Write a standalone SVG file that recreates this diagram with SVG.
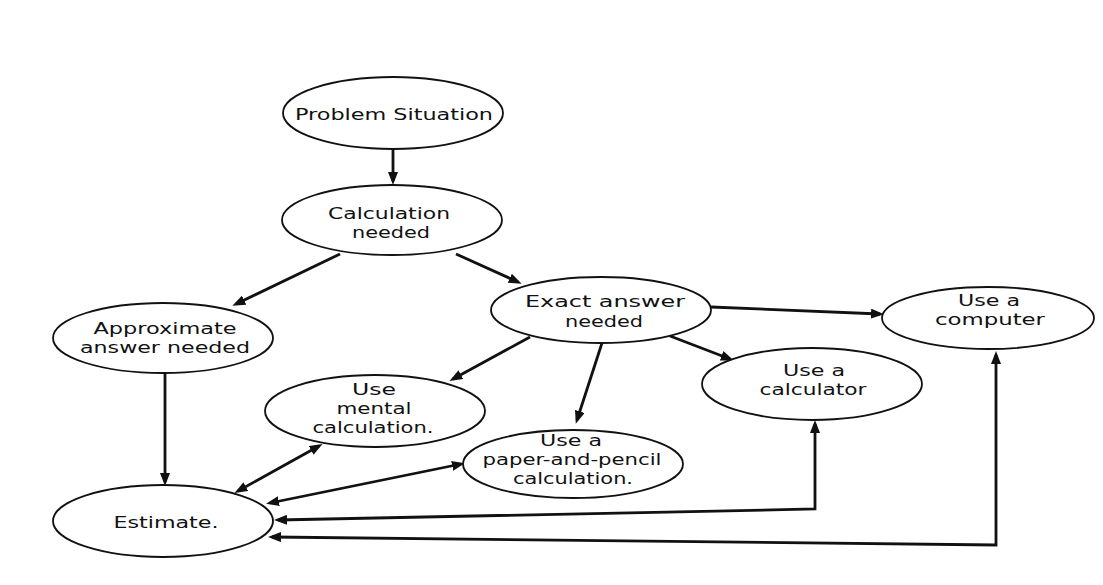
<svg xmlns="http://www.w3.org/2000/svg" width="1103" height="585" viewBox="0 0 1103 585">
<style>
.node ellipse{fill:#fff;stroke:#111;stroke-width:1.8}
.node text{font-family:"DejaVu Sans","Liberation Sans",sans-serif;font-size:16px;fill:#111;text-anchor:middle}
.edges line,.edges polyline{stroke:#111;stroke-width:2.8;fill:none}
</style>
<defs>
<marker id="ah" viewBox="0 0 13 10" refX="9" refY="5" markerWidth="13" markerHeight="10" markerUnits="userSpaceOnUse" orient="auto-start-reverse">
<path d="M0,0 L13,5 L0,10 z" fill="#111"/>
</marker>
</defs>
<rect width="1103" height="585" fill="#fff"/>
<g class="edges">
<line x1="393" y1="150" x2="393" y2="181" marker-end="url(#ah)"/>
<line x1="340" y1="254" x2="236" y2="304" marker-end="url(#ah)"/>
<line x1="456" y1="254" x2="518" y2="282" marker-end="url(#ah)"/>
<line x1="165" y1="373" x2="165" y2="482" marker-end="url(#ah)"/>
<line x1="711" y1="307" x2="880" y2="314" marker-end="url(#ah)"/>
<line x1="670" y1="336" x2="730" y2="359" marker-end="url(#ah)"/>
<line x1="530" y1="337" x2="453" y2="379" marker-end="url(#ah)"/>
<line x1="602" y1="343" x2="577" y2="420" marker-end="url(#ah)"/>
<line x1="238" y1="491" x2="319" y2="446" marker-start="url(#ah)" marker-end="url(#ah)"/>
<line x1="270" y1="503" x2="461" y2="464" marker-start="url(#ah)" marker-end="url(#ah)"/>
<polyline points="278,520 815,509 815,424" marker-start="url(#ah)" marker-end="url(#ah)"/>
<polyline points="272,537 996,545 996,355" marker-start="url(#ah)" marker-end="url(#ah)"/>
</g>
<g id="problem" class="node"><ellipse cx="393" cy="113" rx="110" ry="36"/><text x="394" y="120" textLength="198" lengthAdjust="spacingAndGlyphs">Problem Situation</text></g>
<g id="calc" class="node"><ellipse cx="392" cy="220" rx="110" ry="35"/><text x="389" y="219" textLength="122" lengthAdjust="spacingAndGlyphs">Calculation</text><text x="391" y="238" textLength="78" lengthAdjust="spacingAndGlyphs">needed</text></g>
<g id="approx" class="node"><ellipse cx="163" cy="338" rx="110" ry="35"/><text x="165" y="334" textLength="143" lengthAdjust="spacingAndGlyphs">Approximate</text><text x="165" y="353" textLength="170" lengthAdjust="spacingAndGlyphs">answer needed</text></g>
<g id="estimate" class="node"><ellipse cx="163" cy="521" rx="110" ry="36"/><text x="166" y="528" textLength="105" lengthAdjust="spacingAndGlyphs">Estimate.</text></g>
<g id="exact" class="node"><ellipse cx="601" cy="310" rx="110" ry="33"/><text x="605" y="307" textLength="160" lengthAdjust="spacingAndGlyphs">Exact answer</text><text x="604" y="327" textLength="78" lengthAdjust="spacingAndGlyphs">needed</text></g>
<g id="computer" class="node"><ellipse cx="988" cy="318" rx="106" ry="31"/><text x="989" y="306" textLength="62" lengthAdjust="spacingAndGlyphs">Use a</text><text x="990" y="325" textLength="110" lengthAdjust="spacingAndGlyphs">computer</text></g>
<g id="mental" class="node"><ellipse cx="375" cy="411" rx="110" ry="36"/><text x="374" y="395" textLength="44" lengthAdjust="spacingAndGlyphs">Use</text><text x="374" y="414" textLength="75" lengthAdjust="spacingAndGlyphs">mental</text><text x="373" y="433" textLength="121" lengthAdjust="spacingAndGlyphs">calculation.</text></g>
<g id="calculator" class="node"><ellipse cx="812" cy="384" rx="110" ry="36"/><text x="814" y="376" textLength="62" lengthAdjust="spacingAndGlyphs">Use a</text><text x="813" y="395" textLength="107" lengthAdjust="spacingAndGlyphs">calculator</text></g>
<g id="paper" class="node"><ellipse cx="573" cy="464" rx="110" ry="34"/><text x="571" y="446" textLength="62" lengthAdjust="spacingAndGlyphs">Use a</text><text x="572" y="465" textLength="179" lengthAdjust="spacingAndGlyphs">paper-and-pencil</text><text x="573" y="484" textLength="120" lengthAdjust="spacingAndGlyphs">calculation.</text></g>
</svg>
